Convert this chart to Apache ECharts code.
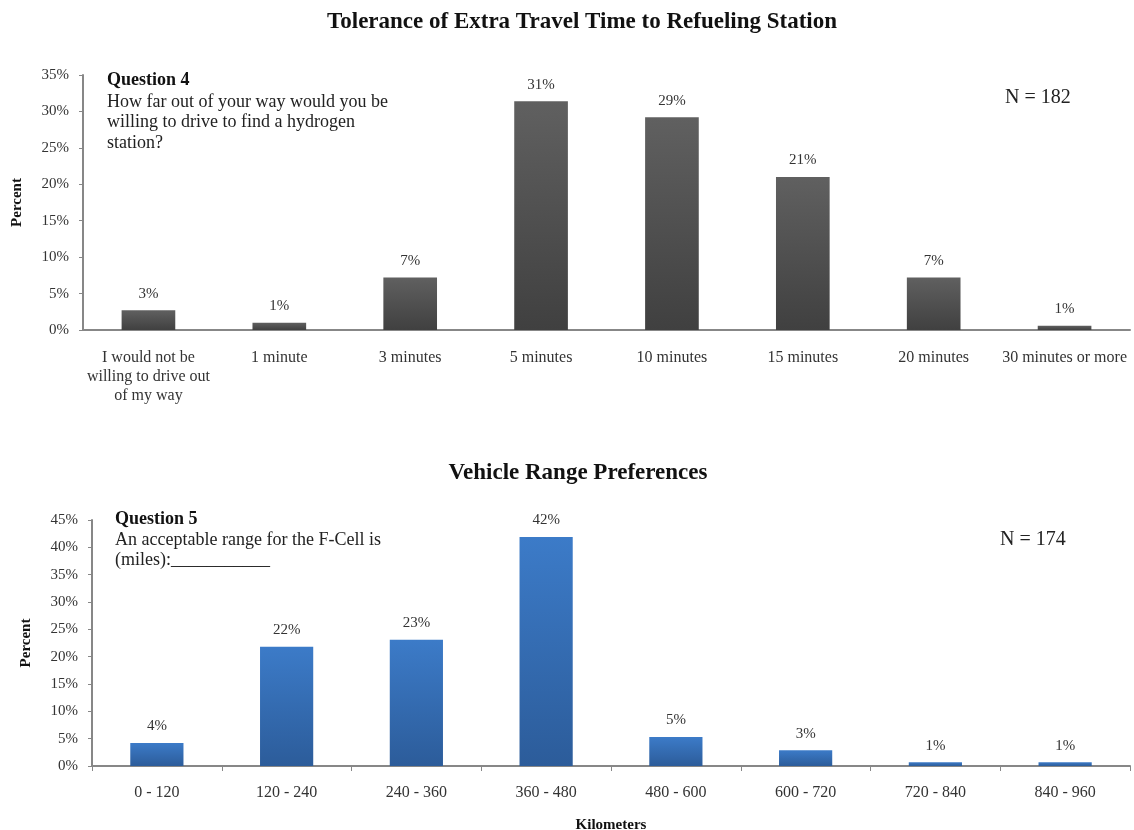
<!DOCTYPE html>
<html>
<head>
<meta charset="utf-8">
<script src="https://cdn.jsdelivr.net/npm/echarts@6/dist/echarts.min.js"></script>
<style>
  html, body { margin: 0; padding: 0; background: #fff; }
  #main { width: 1134px; height: 830px; }
</style>
</head>
<body>
<div id="main"></div>
<script>
var travelCats = ['I would not be\nwilling to drive out\nof my way', '1 minute', '3 minutes', '5 minutes',
  '10 minutes', '15 minutes', '20 minutes', '30 minutes or more'];
var travelPct = [2.7, 1.0, 7.2, 31.4, 29.2, 21.0, 7.2, 0.6];

var rangeCats = ['0 - 120', '120 - 240', '240 - 360', '360 - 480', '480 - 600', '600 - 720', '720 - 840', '840 - 960'];
var rangePct = [4.2, 21.8, 23.1, 41.9, 5.3, 2.9, 0.7, 0.7];

var serif = '"Liberation Serif", "DejaVu Serif", serif';
var axisGray = '#878787';
var txt = '#333';

var chart = echarts.init(document.getElementById('main'));

function pctLabel(p) { return Math.round(p.value) + '%'; }

function yAx(gi, max) {
  return {
    gridIndex: gi, type: 'value', min: 0, max: max, interval: 5,
    name: 'Percent', nameLocation: 'middle', nameRotate: 90,
    nameGap: 58,
    nameTextStyle: { fontFamily: serif, fontWeight: 'bold', fontSize: 15, color: '#111' },
    axisLine: { show: true, lineStyle: { color: axisGray, width: 2 } },
    axisTick: { show: true, length: 4, lineStyle: { color: axisGray, width: 1 } },
    axisLabel: { formatter: '{value}%', fontFamily: serif, fontSize: 15, color: txt, margin: 14 },
    splitLine: { show: false }
  };
}

var option = {
  backgroundColor: '#fff',
  animation: false,
  title: [{
    text: 'Tolerance of Extra Travel Time to Refueling Station',
    left: 577, top: 6, textAlign: 'center',
    textStyle: { fontFamily: serif, fontWeight: 'bold', fontSize: 23, color: '#111' }
  }, {
    text: 'Vehicle Range Preferences',
    left: 573, top: 457, textAlign: 'center',
    textStyle: { fontFamily: serif, fontWeight: 'bold', fontSize: 23, color: '#111' }
  }],
  grid: [
    { left: 83, top: 75, width: 1047, height: 255, outerBoundsMode: 'none' },
    { left: 92, top: 520, width: 1038, height: 246, outerBoundsMode: 'none' }
  ],
  xAxis: [{
    gridIndex: 0, type: 'category', data: travelCats,
    axisLine: { lineStyle: { color: axisGray, width: 2 } },
    axisTick: { show: false },
    axisLabel: { fontFamily: serif, fontSize: 16, color: txt, margin: 18, lineHeight: 19, interval: 0 }
  }, {
    gridIndex: 1, type: 'category', data: rangeCats,
    name: 'Kilometers', nameLocation: 'middle', nameGap: 52,
    nameTextStyle: { fontFamily: serif, fontWeight: 'bold', fontSize: 15, color: '#111' },
    axisLine: { lineStyle: { color: axisGray, width: 2 } },
    axisTick: { show: true, length: 5, lineStyle: { color: axisGray } },
    axisLabel: { fontFamily: serif, fontSize: 16, color: txt, margin: 19, interval: 0 }
  }],
  yAxis: [yAx(0, 35), yAx(1, 45)],
  series: [{
    type: 'bar', xAxisIndex: 0, yAxisIndex: 0, data: travelPct, barWidth: '41%',
    itemStyle: {
      color: new echarts.graphic.LinearGradient(0, 0, 0, 1, [
        { offset: 0, color: '#606060' }, { offset: 1, color: '#404040' }
      ])
    },
    label: { show: true, position: 'top', distance: 9, formatter: pctLabel,
      fontFamily: serif, fontSize: 15, color: txt }
  }, {
    type: 'bar', xAxisIndex: 1, yAxisIndex: 1, data: rangePct, barWidth: '41%',
    itemStyle: {
      color: new echarts.graphic.LinearGradient(0, 0, 0, 1, [
        { offset: 0, color: '#3c7bc8' }, { offset: 1, color: '#2c5c9a' }
      ])
    },
    label: { show: true, position: 'top', distance: 9, formatter: pctLabel,
      fontFamily: serif, fontSize: 15, color: txt }
  }],
  graphic: [{
    type: 'text', left: 107, top: 71,
    style: { text: 'Question 4', font: 'bold 18px ' + serif, fill: '#111' }
  }, {
    type: 'text', left: 107, top: 92,
    style: { text: 'How far out of your way would you be\nwilling to drive to find a hydrogen\nstation?',
      font: '18px ' + serif, lineHeight: 20.5, fill: '#222' }
  }, {
    type: 'text', left: 1005, top: 88,
    style: { text: 'N = 182', font: '20px ' + serif, fill: '#222' }
  }, {
    type: 'text', left: 115, top: 510,
    style: { text: 'Question 5', font: 'bold 18px ' + serif, fill: '#111' }
  }, {
    type: 'text', left: 115, top: 530,
    style: { text: 'An acceptable range for the F-Cell is\n(miles):___________',
      font: '18px ' + serif, lineHeight: 20.5, fill: '#222' }
  }, {
    type: 'text', left: 1000, top: 530,
    style: { text: 'N = 174', font: '20px ' + serif, fill: '#222' }
  }]
};

chart.setOption(option);
</script>
</body>
</html>
